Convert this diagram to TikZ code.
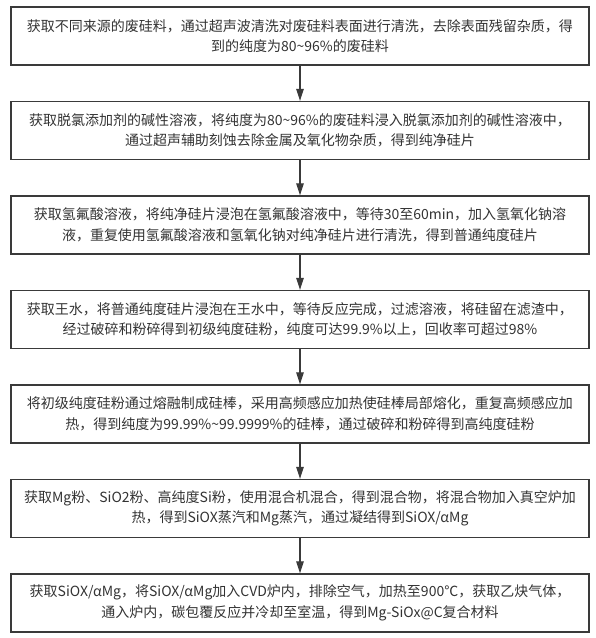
\documentclass[tikz,border=0pt]{standalone}
\usepackage{fontspec}
\setmainfont{Noto Sans CJK SC}
\usetikzlibrary{arrows.meta}
\definecolor{boxgray}{HTML}{3A3A3A}
\definecolor{txtgray}{HTML}{333333}

\begin{document}
\begin{tikzpicture}[x=1pt,y=-1pt,
		stepbox/.style={draw=boxgray, line width=1.3pt, minimum width=578pt, minimum height=58pt,
			inner sep=0pt, align=center, text=txtgray, font=\fontsize{14}{20.5}\selectfont},
		flow/.style={draw=boxgray, line width=1.1pt, -{Triangle[length=12pt,width=7.5pt]}}]
			\useasboundingbox (0,0) rectangle (596,638);
			\def \hor{ 300 };
			\def \ver{ 94.5 };
			\def \top{ 36 };
			\node[stepbox] (1) at (\hor,\top+0*\ver) {获取不同来源的废硅料，通过超声波清洗对废硅料表面进行清洗，去除表面残留杂质，得\\到的纯度为80\textasciitilde96\%的废硅料};
			\node[stepbox] (2) at (\hor,\top+1*\ver) {获取脱氯添加剂的碱性溶液，将纯度为80\textasciitilde96\%的废硅料浸入脱氯添加剂的碱性溶液中，\\通过超声辅助刻蚀去除金属及氧化物杂质，得到纯净硅片};
			\node[stepbox] (3) at (\hor,\top+2*\ver) {获取氢氟酸溶液，将纯净硅片浸泡在氢氟酸溶液中，等待30至60min，加入氢氧化钠溶\\液，重复使用氢氟酸溶液和氢氧化钠对纯净硅片进行清洗，得到普通纯度硅片};
			\node[stepbox] (4) at (\hor,\top+3*\ver) {获取王水，将普通纯度硅片浸泡在王水中，等待反应完成，过滤溶液，将硅留在滤渣中，\\经过破碎和粉碎得到初级纯度硅粉，纯度可达99.9\%以上，回收率可超过98\%};
			\node[stepbox] (5) at (\hor,\top+4*\ver) {将初级纯度硅粉通过熔融制成硅棒，采用高频感应加热使硅棒局部熔化，重复高频感应加\\热，得到纯度为99.99\%\textasciitilde99.9999\%的硅棒，通过破碎和粉碎得到高纯度硅粉};
			\node[stepbox] (6) at (\hor,\top+5*\ver) {获取Mg粉、SiO2粉、高纯度Si粉，使用混合机混合，得到混合物，将混合物加入真空炉加\\热，得到SiOX蒸汽和Mg蒸汽，通过凝结得到SiOX/αMg};
			\node[stepbox] (7) at (\hor,\top+6*\ver) {获取SiOX/αMg，将SiOX/αMg加入CVD炉内，排除空气，加热至900℃，获取乙炔气体，\\通入炉内，碳包覆反应并冷却至室温，得到Mg-SiOx@C复合材料};
			\draw[flow] (1) -- (2);
			\draw[flow] (2) -- (3);
			\draw[flow] (3) -- (4);
			\draw[flow] (4) -- (5);
			\draw[flow] (5) -- (6);
			\draw[flow] (6) -- (7);
		\end{tikzpicture}
\end{document}
